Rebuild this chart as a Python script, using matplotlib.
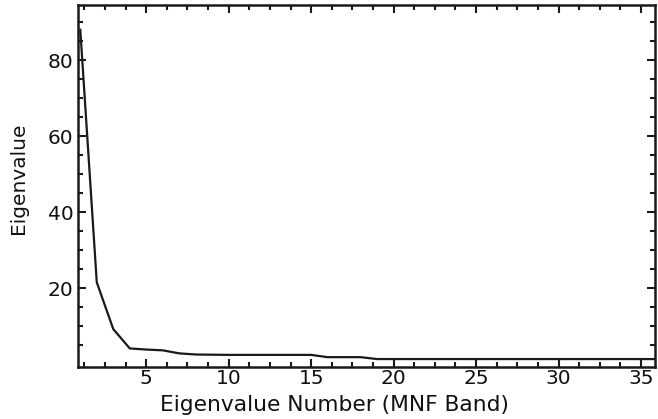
import matplotlib
matplotlib.use("Agg")
import matplotlib.pyplot as plt
from matplotlib.ticker import MultipleLocator, FixedLocator

band = list(range(1, 37))
eigenvalue = [88.0, 21.5, 9.2, 4.1, 3.8, 3.6, 2.8, 2.5, 2.45, 2.4,
              2.4, 2.4, 2.4, 2.4, 2.4, 1.8, 1.8, 1.8, 1.3, 1.3,
              1.3, 1.3, 1.3, 1.3, 1.3, 1.3, 1.3, 1.3, 1.3, 1.3,
              1.3, 1.3, 1.3, 1.3, 1.3, 1.3]
y_major = [20, 40, 60, 80]
x_major = [5, 10, 15, 20, 25, 30, 35]

plt.rcParams['font.family'] = ['DejaVu Sans']
fig = plt.figure(figsize=(6.58, 4.19), dpi=100)
ax = fig.add_axes([0.119, 0.124, 0.8764, 0.865])

ax.plot(band, eigenvalue, color='#1a1a1a', lw=1.6, solid_joinstyle='miter')

ax.set_xlim(0.88, 35.85)
ax.set_ylim(-0.8, 94.6)
ax.xaxis.set_major_locator(FixedLocator(x_major))
ax.xaxis.set_minor_locator(MultipleLocator(1.25))
ax.yaxis.set_major_locator(FixedLocator(y_major))
ax.yaxis.set_minor_locator(FixedLocator([v for v in range(5, 95, 5) if v not in y_major]))

ax.tick_params(which='both', direction='in', top=True, right=True,
               width=1.5, colors='#1a1a1a', labelsize=14.5, labelcolor='#111111')
ax.tick_params(which='major', length=6)
ax.tick_params(which='minor', length=3.5)
ax.tick_params(axis='x', pad=1.5)
ax.tick_params(axis='y', pad=3.5)
for s in ax.spines.values():
    s.set_linewidth(1.8)
    s.set_color('#1a1a1a')

ax.set_xlabel('Eigenvalue Number (MNF Band)', fontsize=15.7, color='#111111',
              va='baseline')
ax.xaxis.set_label_coords(0.445, -0.1206)
ax.set_ylabel('Eigenvalue', fontsize=14.5, color='#111111', va='center')
ax.yaxis.set_label_coords(-0.104, 0.52)

fig.savefig('out.png', dpi=100)
